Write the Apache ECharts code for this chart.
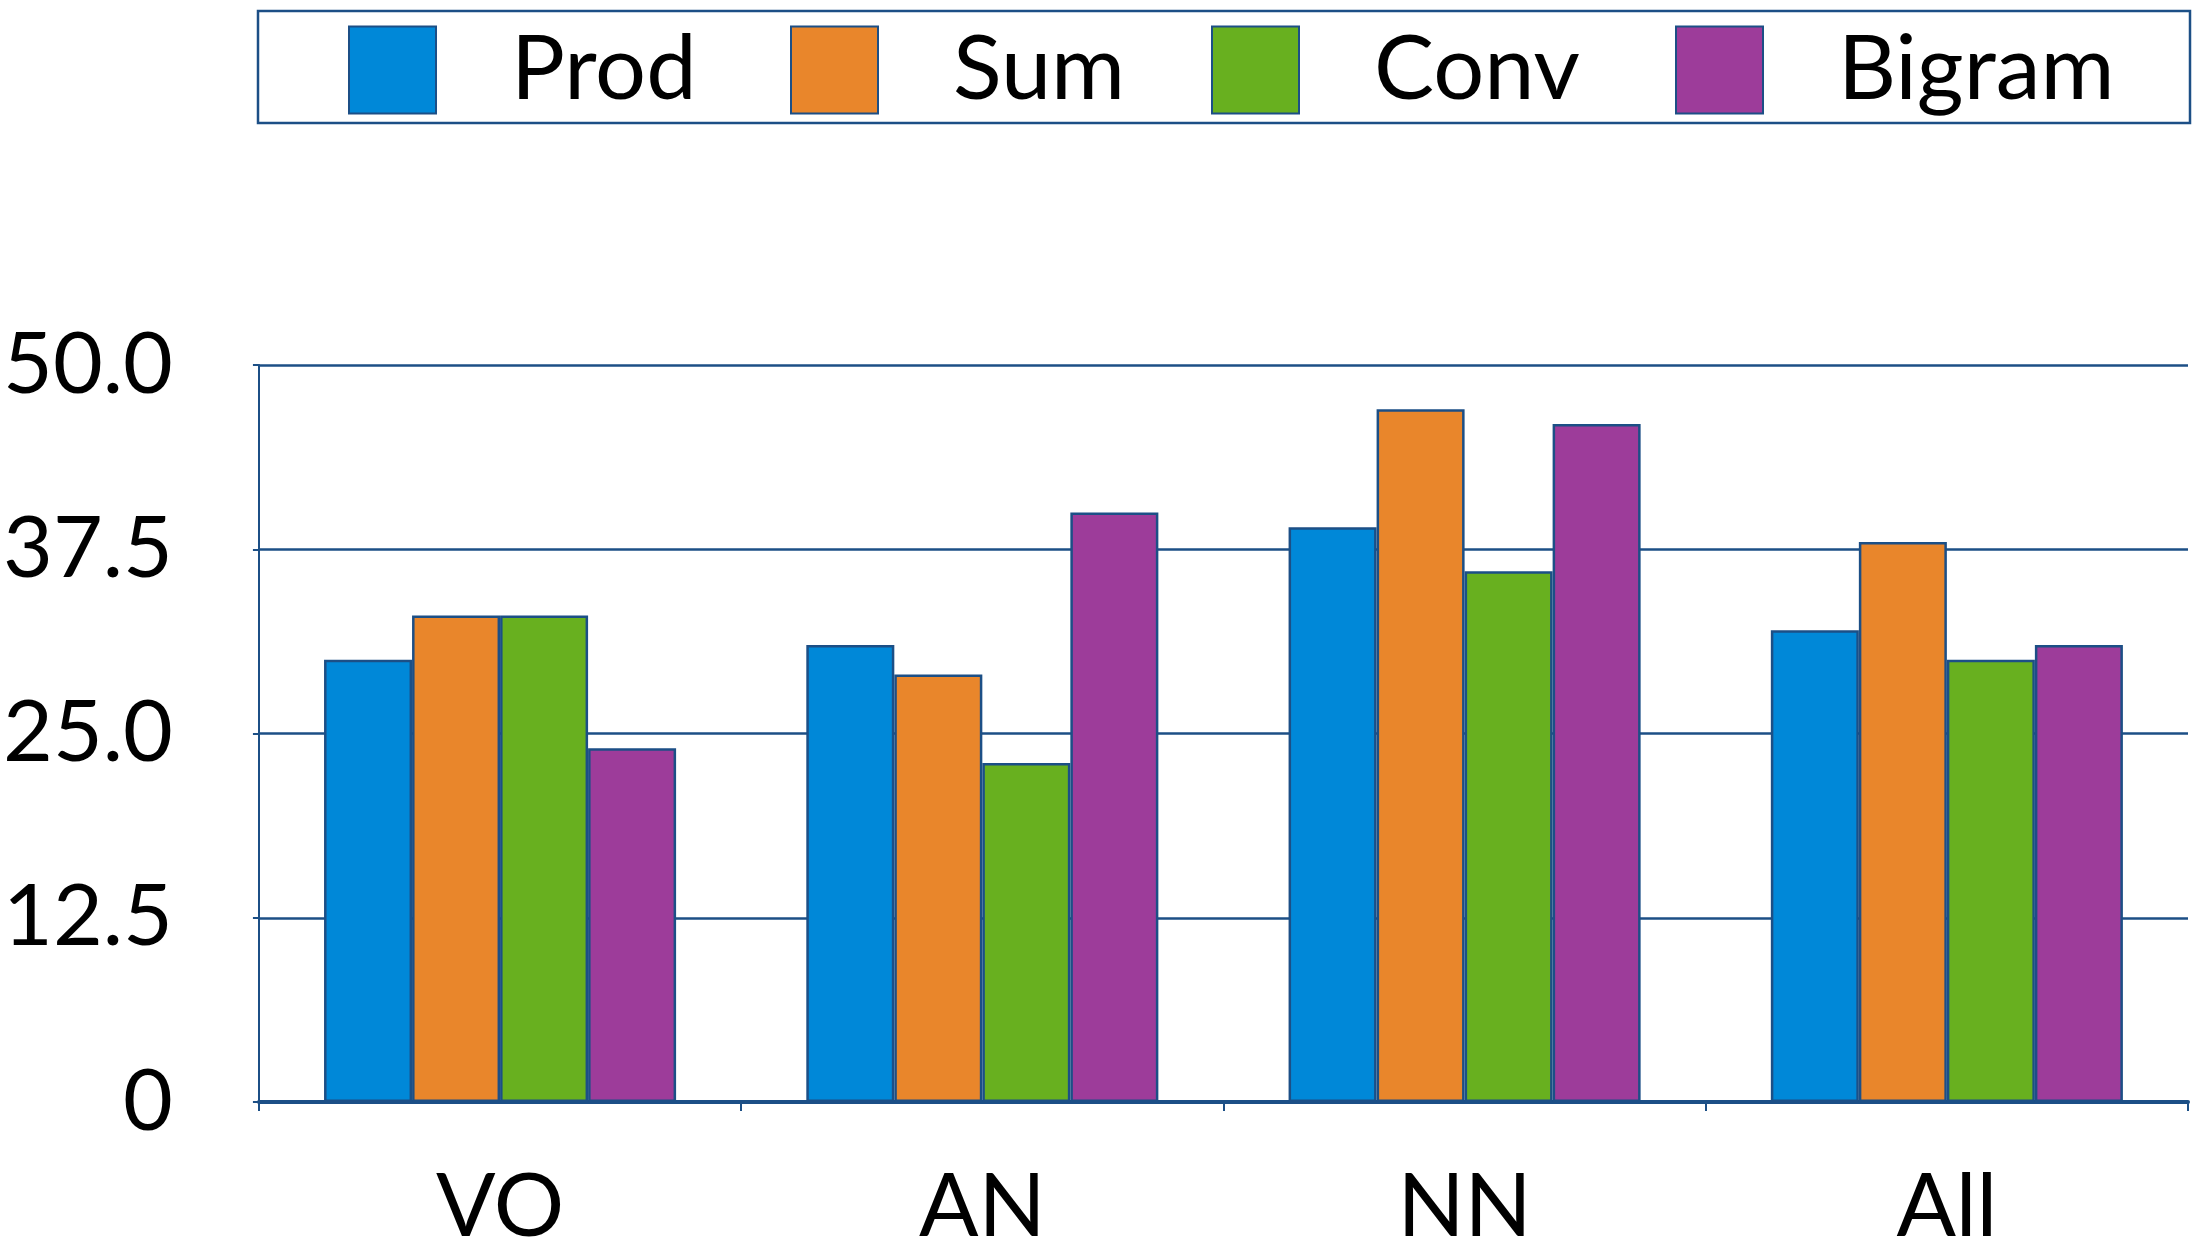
<!DOCTYPE html>
<html>
<head>
<meta charset="utf-8">
<style>
html,body{margin:0;padding:0;background:#fff;}
#chart{width:2192px;height:1252px;}
</style>
<script src="https://cdn.jsdelivr.net/npm/echarts@6/dist/echarts.min.js"></script>
</head>
<body>
<div id="chart"></div>
<script>
const categories = ['VO', 'AN', 'NN', 'All'];
const seriesNames = ['Prod', 'Sum', 'Conv', 'Bigram'];
const prodValues = [30, 31, 39, 32];
const sumValues = [33, 29, 47, 38];
const convValues = [33, 23, 36, 30];
const bigramValues = [24, 40, 46, 31];
const yTickLabels = ['0', '12.5', '25.0', '37.5', '50.0'];

const colors = ['#0088d8', '#e9862b', '#68b01f', '#9d3c9a'];
const navy = '#1c4f86';
const fontFam = 'Lato, "Open Sans", sans-serif';
const allValues = [prodValues, sumValues, convValues, bigramValues];
const legendLefts = [348, 790, 1211, 1675];

const chart = echarts.init(document.getElementById('chart'), null, {renderer: 'canvas'});

const legends = seriesNames.map((n, i) => ({
  data: [n],
  left: legendLefts[i],
  top: 25,
  orient: 'horizontal',
  itemWidth: 87,
  itemHeight: 87,
  itemGap: 0,
  padding: 0,
  selectedMode: false,
  icon: 'rect',
  textStyle: {
    fontFamily: fontFam,
    fontSize: 90,
    color: '#000',
    padding: [0, 0, 0, 70]
  }
}));

const option = {
  animation: false,
  backgroundColor: '#fff',
  color: colors,
  graphic: [{
    type: 'rect',
    shape: {x: 258, y: 11, width: 1932, height: 112},
    style: {fill: '#fff', stroke: navy, lineWidth: 2.5},
    z: -1
  }],
  legend: legends,
  grid: {left: 258, right: 4, top: 365, bottom: 147.5, containLabel: false},
  xAxis: {
    type: 'category',
    data: categories,
    axisLine: {show: true, lineStyle: {color: navy, width: 4}},
    axisTick: {show: true, length: 9, lineStyle: {color: navy, width: 2}},
    axisLabel: {
      fontFamily: fontFam, fontSize: 88, color: '#000', margin: 62
    },
    splitLine: {show: false}
  },
  yAxis: {
    type: 'value',
    min: 0, max: 50, interval: 12.5,
    axisLine: {show: true, lineStyle: {color: navy, width: 2}},
    axisTick: {show: true, length: 6, lineStyle: {color: navy, width: 2}},
    axisLabel: {
      fontFamily: fontFam, fontSize: 86, color: '#000', margin: 86,
      formatter: (v) => yTickLabels[Math.round(v / 12.5)]
    },
    splitLine: {show: true, lineStyle: {color: navy, width: 2.5}}
  },
  series: seriesNames.map((n, i) => ({
    name: n,
    type: 'bar',
    data: allValues[i],
    barGap: '0%',
    barCategoryGap: '27%',
    itemStyle: {color: colors[i], borderColor: navy, borderWidth: 2.5}
  }))
};
chart.setOption(option);
</script>
</body>
</html>
